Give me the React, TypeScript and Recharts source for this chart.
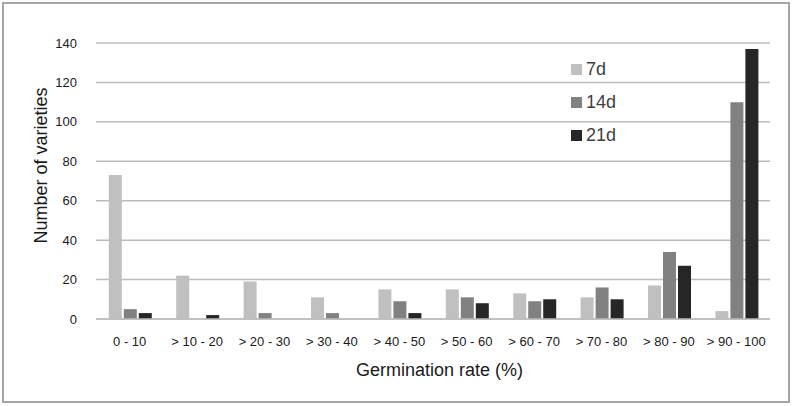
import React from "react";
import { BarChart, Bar, XAxis, YAxis, CartesianGrid, Legend, Label } from "recharts";

const categories = [
  "0 - 10",
  "> 10 - 20",
  "> 20 - 30",
  "> 30 - 40",
  "> 40 - 50",
  "> 50 - 60",
  "> 60 - 70",
  "> 70 - 80",
  "> 80 - 90",
  "> 90 - 100",
];
const day7 = [73, 22, 19, 11, 15, 15, 13, 11, 17, 4];
const day14 = [5, 0, 3, 3, 9, 11, 9, 16, 34, 110];
const day21 = [3, 2, 0, 0, 3, 8, 10, 10, 27, 137];
const yTicks = [0, 20, 40, 60, 80, 100, 120, 140];

const series = [
  { key: "d7", name: "7d", color: "#c0c0c0" },
  { key: "d14", name: "14d", color: "#818181" },
  { key: "d21", name: "21d", color: "#262626" },
];

const data = categories.map((label, i) => ({
  label,
  d7: day7[i],
  d14: day14[i],
  d21: day21[i],
}));

const FONT = '"Liberation Sans", Arial, sans-serif';

function LegendBox() {
  return (
    <div style={{ fontFamily: FONT }}>
      {series.map((s) => (
        <div
          key={s.key}
          style={{ height: 33.3, display: "flex", alignItems: "center" }}
        >
          <span
            style={{ width: 11, height: 11, background: s.color, marginRight: 4 }}
          />
          <span style={{ fontSize: 18, color: "#404040" }}>{s.name}</span>
        </div>
      ))}
    </div>
  );
}

export default function App() {
  return (
    <div
      style={{
        position: "absolute",
        left: 0,
        top: 0,
        width: 793,
        height: 406,
        background: "#fff",
        fontFamily: FONT,
      }}
    >
      <div
        style={{
          position: "absolute",
          left: 2,
          top: 2,
          width: 788,
          height: 401,
          boxSizing: "border-box",
          border: "2px solid #a6a6a6",
        }}
      />
      <BarChart
        width={793}
        height={406}
        data={data}
        margin={{ top: 43, right: 23, left: 0, bottom: 27 }}
        barCategoryGap="19%"
        barGap={2}
      >
        <CartesianGrid vertical={false} stroke="#bcbcbc" strokeWidth={1.5} />
        <XAxis
          dataKey="label"
          height={60}
          tickLine={false}
          tickSize={0}
          tickMargin={18}
          axisLine={{ stroke: "#bcbcbc", strokeWidth: 1.5 }}
          tick={{ fontSize: 13, fill: "#1a1a1a", fontFamily: FONT }}
          interval={0}
        >
          <Label
            content={() => (
              <text
                x={439.5}
                y={376}
                textAnchor="middle"
                fontSize={18}
                fill="#1a1a1a"
                fontFamily={FONT}
              >
                Germination rate (%)
              </text>
            )}
          />
        </XAxis>
        <YAxis
          width={96}
          domain={[0, 140]}
          ticks={yTicks}
          axisLine={false}
          tickLine={false}
          tickSize={0}
          tickMargin={19}
          tick={{ fontSize: 13, fill: "#1a1a1a", fontFamily: FONT }}
        >
          <Label
            content={() => (
              <text
                transform="translate(46.5,165.5) rotate(-90)"
                textAnchor="middle"
                fontSize={18}
                fill="#1a1a1a"
                fontFamily={FONT}
              >
                Number of varieties
              </text>
            )}
          />
        </YAxis>
        <Legend
          layout="vertical"
          align="center"
          verticalAlign="middle"
          wrapperStyle={{ left: 571, top: 52.5, width: 80 }}
          content={LegendBox}
        />
        {series.map((s) => (
          <Bar
            key={s.key}
            dataKey={s.key}
            name={s.name}
            fill={s.color}
            isAnimationActive={false}
          />
        ))}
      </BarChart>
    </div>
  );
}
